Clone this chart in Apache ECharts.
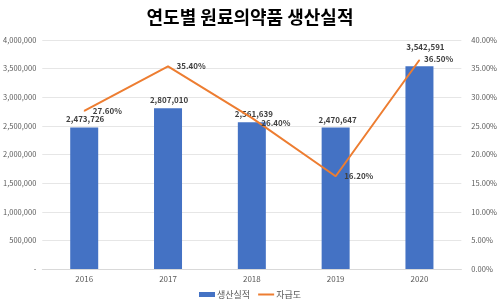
<!DOCTYPE html>
<html>
<head>
<meta charset="utf-8">
<script src="https://cdn.jsdelivr.net/npm/echarts@6/dist/echarts.min.js"></script>
<style>
  html, body { margin: 0; padding: 0; background: #fff; }
  #chart { width: 500px; height: 303px; }
</style>
</head>
<body>
<div id="chart"></div>
<script>
const years = ['2016', '2017', '2018', '2019', '2020'];
const production = [2473726, 2807010, 2561639, 2470647, 3542591];
const selfSufficiency = [27.6, 35.4, 26.4, 16.2, 36.5];
const leftTicks = [0, 500000, 1000000, 1500000, 2000000, 2500000, 3000000, 3500000, 4000000];
const rightTicks = [0, 5, 10, 15, 20, 25, 30, 35, 40];

const font = "'Noto Sans CJK KR', 'Noto Sans', sans-serif";
const fmt = n => n.toLocaleString('en-US');

// label nudges
const barLabelOffsets = [[1, 0], [1, 0], [2, 0], [2, 0], [6, -11]];
const lineLabelOffsets = [[0, 0], [0, 0], [1, 5], [0, 0], [-4, -1]];

const chart = echarts.init(document.getElementById('chart'));
chart.setOption({
  animation: false,
  textStyle: { fontFamily: font },
  title: {
    text: '연도별 원료의약품 생산실적',
    left: 'center',
    top: 3,
    textStyle: { fontSize: 18, fontWeight: 'bold', color: '#000', fontFamily: font }
  },
  legend: {
    bottom: -1,
    left: 'center',
    itemWidth: 16,
    itemHeight: 5,
    itemGap: 7,
    textStyle: { fontSize: 9, color: '#595959', padding: [0, 0, 0, -3] },
    data: [
      { name: '생산실적', icon: 'rect' },
      { name: '자급도', itemStyle: { opacity: 0 } }
    ]
  },
  grid: { left: 39, right: 31, top: 40, bottom: 34 },
  xAxis: {
    type: 'category',
    data: years,
    axisTick: { show: false },
    axisLine: { lineStyle: { color: '#d9d9d9' } },
    axisLabel: { fontSize: 8, color: '#595959', margin: 6 }
  },
  yAxis: [
    {
      type: 'value',
      min: leftTicks[0],
      max: leftTicks[leftTicks.length - 1],
      interval: leftTicks[1] - leftTicks[0],
      axisLine: { show: false },
      axisTick: { show: false },
      splitLine: { lineStyle: { color: '#e6e6e6' } },
      axisLabel: {
        fontSize: 7.5, color: '#595959', margin: 6,
        formatter: v => v === 0 ? '-' : fmt(v)
      }
    },
    {
      type: 'value',
      min: rightTicks[0],
      max: rightTicks[rightTicks.length - 1],
      interval: rightTicks[1] - rightTicks[0],
      axisLine: { show: false },
      axisTick: { show: false },
      splitLine: { show: false },
      axisLabel: {
        fontSize: 7.5, color: '#595959', margin: 10,
        formatter: v => v.toFixed(2) + '%'
      }
    }
  ],
  series: [
    {
      name: '자급도',
      type: 'line',
      yAxisIndex: 1,
      symbol: 'circle',
      symbolSize: 1,
      lineStyle: { color: '#ED7D31', width: 2 },
      itemStyle: { color: '#ED7D31' },
      data: selfSufficiency.map((v, i) => ({
        value: v,
        label: { offset: lineLabelOffsets[i] }
      })),
      label: {
        show: true,
        position: 'right',
        distance: 8,
        fontSize: 8,
        fontWeight: 'bold',
        color: '#404040',
        formatter: p => p.value.toFixed(2) + '%'
      },
      z: 3
    },
    {
      name: '생산실적',
      type: 'bar',
      barWidth: 28,
      itemStyle: { color: '#4472C4' },
      data: production.map((v, i) => ({
        value: v,
        label: { offset: barLabelOffsets[i] }
      })),
      label: {
        show: true,
        position: 'top',
        distance: 4,
        fontSize: 8,
        fontWeight: 'bold',
        color: '#404040',
        formatter: p => fmt(p.value)
      },
      z: 2
    }
  ]
});
</script>
</body>
</html>
